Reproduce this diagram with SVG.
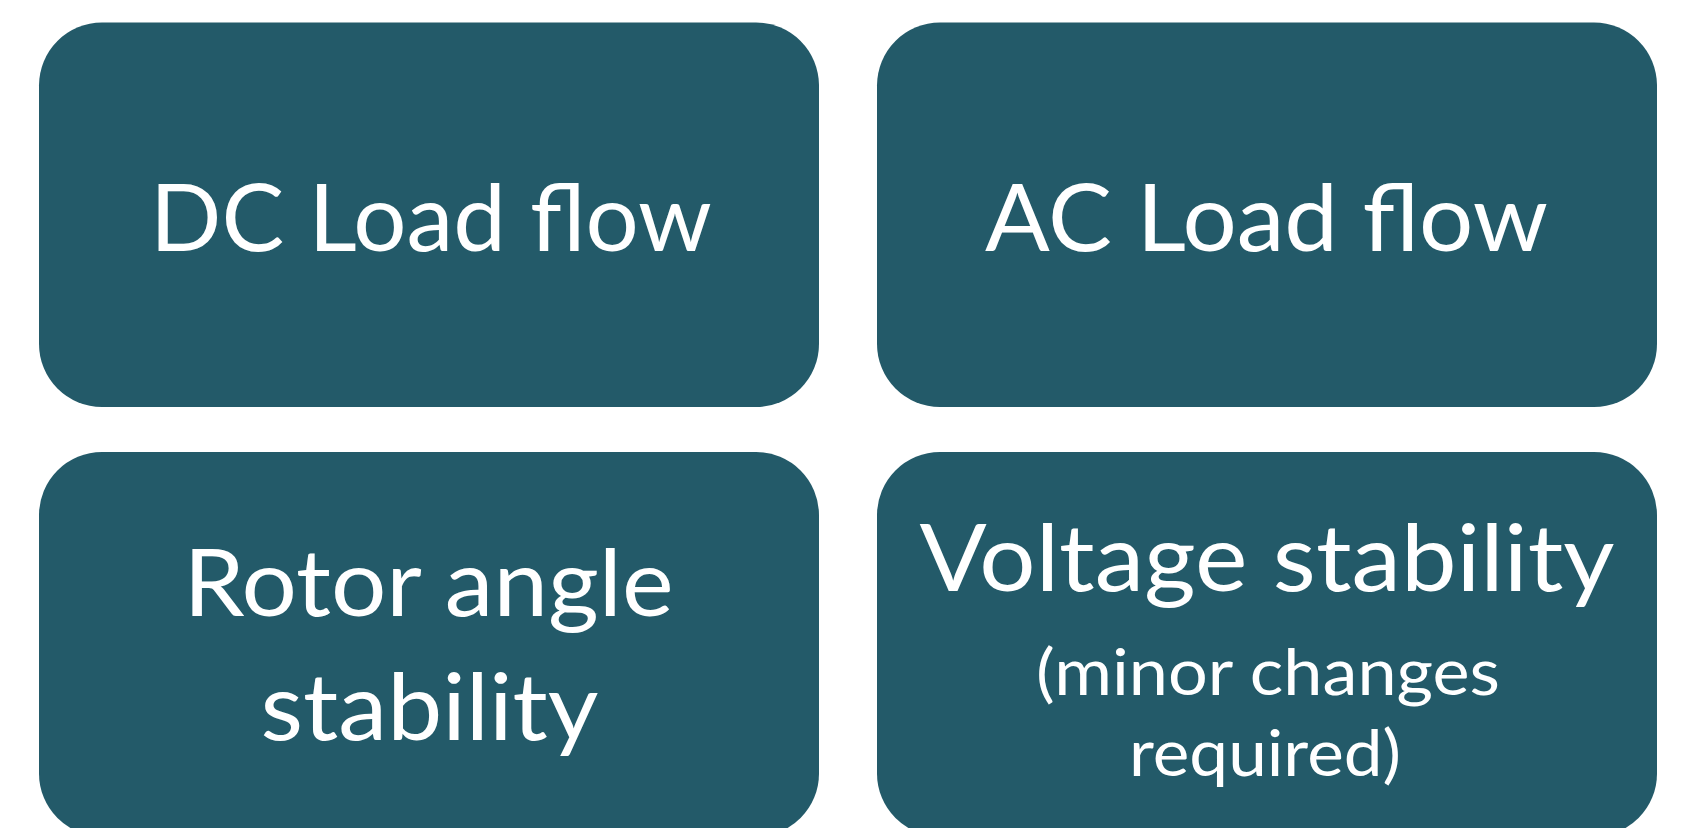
<svg xmlns="http://www.w3.org/2000/svg" width="1688" height="828" viewBox="0 0 1688 828">
<style>
.box{fill:#235A69;}
.t{font-family:Lato,"Liberation Sans",sans-serif;fill:#ffffff;text-anchor:middle;}
.big{font-size:94px;}
.small{font-size:64px;}
</style>
<rect width="1688" height="828" fill="#ffffff"/>
<g id="connectors"></g>
<g id="node-dc">
<rect class="box" x="39" y="22.5" width="780" height="384.5" rx="63" ry="63"/>
<text class="t big" x="431" y="251" textLength="562" lengthAdjust="spacingAndGlyphs">DC Load flow</text>
</g>
<g id="node-ac">
<rect class="box" x="877" y="22.5" width="780" height="384.5" rx="63" ry="63"/>
<text class="t big" x="1266.5" y="251" textLength="563" lengthAdjust="spacingAndGlyphs">AC Load flow</text>
</g>
<g id="node-rotor">
<rect class="box" x="39" y="452" width="780" height="384.5" rx="63" ry="63"/>
<text class="t big" x="428.5" y="616" textLength="490" lengthAdjust="spacingAndGlyphs">Rotor angle</text>
<text class="t big" x="429.5" y="740" textLength="338" lengthAdjust="spacingAndGlyphs">stability</text>
</g>
<g id="node-voltage">
<rect class="box" x="877" y="452" width="780" height="384.5" rx="63" ry="63"/>
<text class="t big" x="1267" y="591" textLength="695" lengthAdjust="spacingAndGlyphs">Voltage stability</text>
<text class="t small" x="1268" y="695" textLength="464" lengthAdjust="spacingAndGlyphs">(minor changes</text>
<text class="t small" x="1265" y="776" textLength="272" lengthAdjust="spacingAndGlyphs">required)</text>
</g>
</svg>
